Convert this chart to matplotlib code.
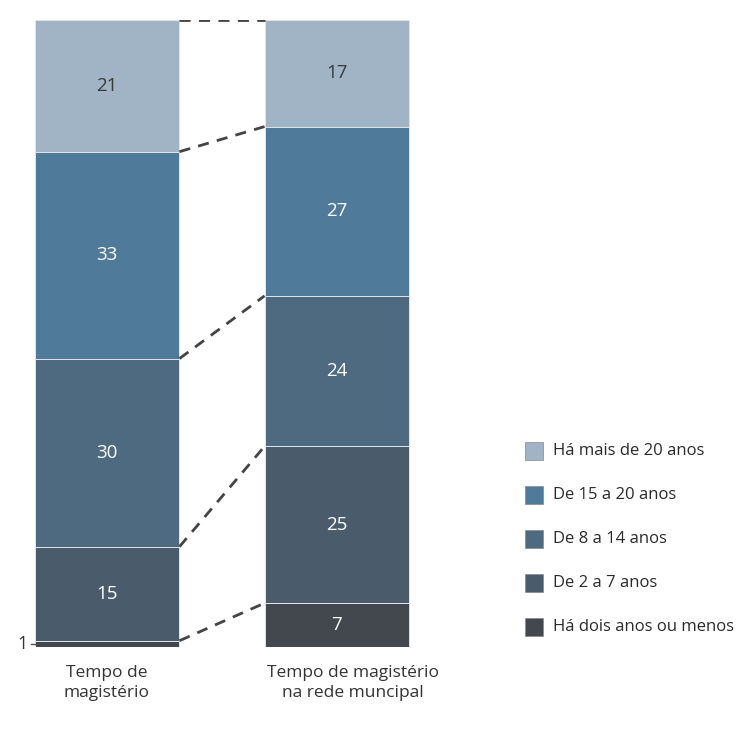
import numpy as np
import matplotlib.pyplot as plt
from matplotlib.patches import Rectangle

plt.rcParams['font.family'] = ['Open Sans', 'DejaVu Sans']

# percentual de professores por tempo de magistério (de baixo para cima)
categorias = ['Há dois anos ou menos', 'De 2 a 7 anos', 'De 8 a 14 anos',
              'De 15 a 20 anos', 'Há mais de 20 anos']
tempo_magisterio = [1, 15, 30, 33, 21]
tempo_rede = [7, 25, 24, 27, 17]
rotulos_barras = ['Tempo de\nmagistério', 'Tempo de magistério\nna rede muncipal']

cores = ['#43484e', '#4a5c6c', '#4d6a81', '#4f7a9a', '#a0b4c5']
cores_texto = ['white', 'white', 'white', 'white', '#3a3a3a']

fig = plt.figure(figsize=(7.42, 7.29), dpi=100)
ax = fig.add_axes([20 / 742, 82 / 729, 430 / 742, 627 / 729])

largura = 0.63
posicoes = [0, 1]
series = [tempo_magisterio, tempo_rede]

for x, valores in zip(posicoes, series):
    base = 0
    for v, cor, ctxt in zip(valores, cores, cores_texto):
        ax.bar(x, v, bottom=base, width=largura, color=cor,
               edgecolor='#dfe5ea', linewidth=0.7)
        if v >= 5:
            ax.text(x, base + v / 2, str(v), ha='center', va='center',
                    fontsize=13.5, color=ctxt)
        base += v

# linhas tracejadas ligando as divisões das duas barras
acum_esq = np.cumsum(tempo_magisterio)
acum_dir = np.cumsum(tempo_rede)
for ye, yd in zip(acum_esq, acum_dir):
    ax.plot([posicoes[0] + largura / 2, posicoes[1] - largura / 2], [ye, yd],
            color='#444444', linestyle=(0, (4, 3)), linewidth=2)

# rótulo do segmento pequeno (1%)
ax.plot([-0.33, posicoes[0] - largura / 2], [tempo_magisterio[0] / 2] * 2,
        color='#555555', linewidth=1)
ax.text(-0.345, tempo_magisterio[0] / 2, str(tempo_magisterio[0]),
        ha='right', va='center', fontsize=13, color='#333333')

for x, rot in zip(posicoes, rotulos_barras):
    ax.text(x + (0.07 if x else 0), -2.9, rot, ha='center', va='top',
            fontsize=12.5, color='#333333', linespacing=1.3)

ax.set_xlim(-87 / 230, 343 / 230)
ax.set_ylim(0, 100)
ax.axis('off')

# legenda
y0 = 451
for i, (cat, cor) in enumerate(zip(categorias[::-1], cores[::-1])):
    yc = y0 + i * 44
    fig.patches.append(Rectangle((525 / 742, 1 - (yc + 9) / 729), 18 / 742, 18 / 729,
                                 transform=fig.transFigure, facecolor=cor,
                                 edgecolor='#888888', linewidth=0.5))
    fig.text(553 / 742, 1 - yc / 729, cat, ha='left', va='center',
             fontsize=12, color='#2a2a2a')

fig.savefig('out.png', dpi=100, facecolor='white')
